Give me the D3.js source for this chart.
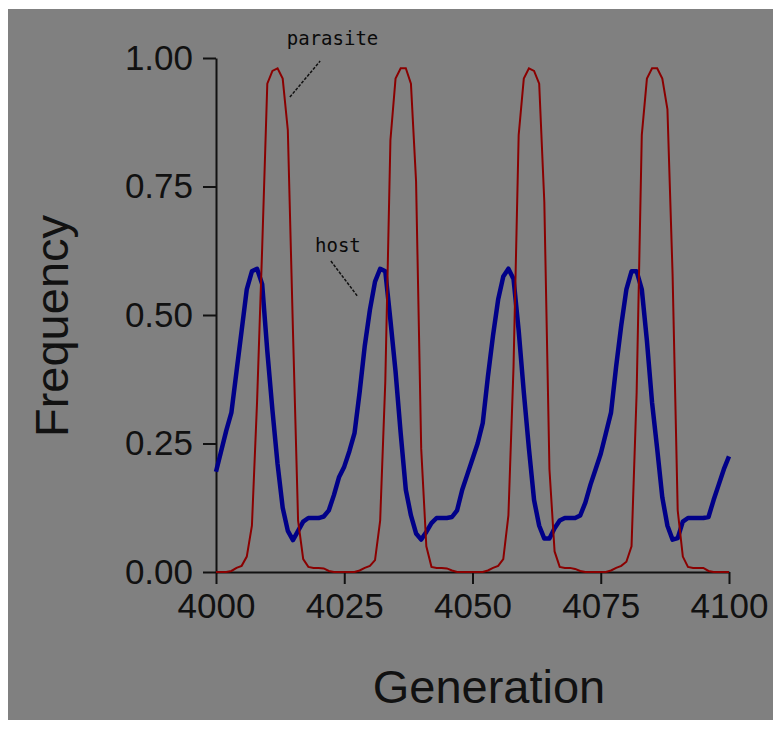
<!DOCTYPE html>
<html lang="en">
<head>
<meta charset="UTF-8">
<title>Host and parasite frequency</title>
<script src="https://d3js.org/d3.v7.min.js"></script>
<style>
    body { margin: 0; background: #fff; }
    .tick text { font-family: "Liberation Sans", Arial, sans-serif; font-size: 35px; fill: #111; }
    .axis-title { font-family: "Liberation Sans", Arial, sans-serif; font-size: 47px; fill: #111; }
    .note { font-family: "DejaVu Sans Mono", monospace; font-size: 19px; fill: #0a0a0a; }
</style>
</head>
<body>
<svg id="chart" width="773" height="729"></svg>
<script>
    // generations 4000..4100, one value per generation
    const generationStart = 4000;
    const generationEnd = 4100;
    const xTicks = [4000, 4025, 4050, 4075, 4100];
    const yTicks = [0, 0.25, 0.5, 0.75, 1];

    const parasite = [
        0, 0, 0, 0.002, 0.008, 0.012, 0.03, 0.09, 0.33, 0.63,
        0.95, 0.975, 0.98, 0.96, 0.86, 0.47, 0.10, 0.025, 0.01, 0.008,
        0.008, 0.007, 0.002, 0, 0, 0, 0, 0, 0.003, 0.008,
        0.012, 0.023, 0.10, 0.37, 0.84, 0.96, 0.98, 0.98, 0.95, 0.76,
        0.24, 0.05, 0.01, 0.008, 0.008, 0.007, 0.003, 0, 0, 0,
        0, 0, 0, 0.003, 0.008, 0.012, 0.025, 0.11, 0.40, 0.85,
        0.96, 0.98, 0.975, 0.95, 0.72, 0.20, 0.04, 0.01, 0.008, 0.008,
        0.006, 0.002, 0, 0, 0, 0, 0, 0.003, 0.008, 0.012,
        0.02, 0.05, 0.35, 0.85, 0.96, 0.98, 0.98, 0.96, 0.90, 0.58,
        0.12, 0.03, 0.01, 0.008, 0.008, 0.008, 0.002, 0, 0, 0,
        0
    ];

    const host = [
        0.195, 0.235, 0.275, 0.31, 0.39, 0.47, 0.55, 0.585, 0.59, 0.56,
        0.43, 0.315, 0.21, 0.125, 0.08, 0.062, 0.08, 0.098, 0.105, 0.105,
        0.105, 0.108, 0.12, 0.15, 0.185, 0.205, 0.235, 0.27, 0.35, 0.44,
        0.51, 0.565, 0.59, 0.585, 0.49, 0.39, 0.27, 0.16, 0.11, 0.075,
        0.063, 0.078, 0.095, 0.105, 0.105, 0.105, 0.107, 0.12, 0.16, 0.19,
        0.22, 0.25, 0.29, 0.38, 0.46, 0.53, 0.575, 0.59, 0.57, 0.47,
        0.35, 0.24, 0.14, 0.09, 0.065, 0.065, 0.085, 0.10, 0.105, 0.105,
        0.105, 0.11, 0.135, 0.17, 0.20, 0.23, 0.27, 0.31, 0.40, 0.48,
        0.55, 0.585, 0.585, 0.55, 0.45, 0.33, 0.24, 0.145, 0.09, 0.063,
        0.066, 0.098, 0.105, 0.105, 0.105, 0.105, 0.107, 0.14, 0.17, 0.20,
        0.225
    ];

    const svg = d3.select("#chart");

    // grey panel
    svg.append("rect")
        .attr("x", 8).attr("y", 9)
        .attr("width", 765).attr("height", 711)
        .attr("fill", "#808080");

    const x = d3.scaleLinear().domain([generationStart, generationEnd]).range([216, 729]);
    const y = d3.scaleLinear().domain([0, 1]).range([572, 58]);

    const yAxis = svg.append("g")
        .attr("transform", `translate(${x(generationStart)},0)`)
        .call(d3.axisLeft(y).tickValues(yTicks).tickFormat(d3.format(".2f"))
            .tickSize(13).tickSizeOuter(0).tickPadding(10));

    const xAxis = svg.append("g")
        .attr("transform", `translate(0,${y(0)})`)
        .call(d3.axisBottom(x).tickValues(xTicks).tickFormat(d3.format("d"))
            .tickSize(12).tickSizeOuter(0).tickPadding(9));

    [xAxis, yAxis].forEach(a => {
        a.select(".domain").attr("stroke", "#111").attr("stroke-width", 2);
        a.selectAll(".tick line").attr("stroke", "#111").attr("stroke-width", 2);
        a.attr("font-family", null).attr("font-size", null);
    });

    const line = d3.line()
        .x((d, i) => x(generationStart + i))
        .y(d => y(d));

    svg.append("path")
        .datum(host)
        .attr("fill", "none")
        .attr("stroke", "#000088")
        .attr("stroke-width", 4.5)
        .attr("stroke-linejoin", "round")
        .attr("d", line);

    svg.append("path")
        .datum(parasite)
        .attr("fill", "none")
        .attr("stroke", "#8a0000")
        .attr("stroke-width", 2)
        .attr("d", line);

    // labels with leader lines
    svg.append("text").attr("class", "note")
        .attr("x", x(4013.8)).attr("y", y(1.025)).text("parasite");
    svg.append("line")
        .attr("x1", x(4014.4)).attr("y1", y(0.924))
        .attr("x2", x(4020.3)).attr("y2", y(0.994))
        .attr("stroke", "#111").attr("stroke-width", 1.5).attr("stroke-dasharray", "3,1.5");

    svg.append("text").attr("class", "note")
        .attr("x", x(4019.3)).attr("y", y(0.623)).text("host");
    svg.append("line")
        .attr("x1", x(4022.4)).attr("y1", y(0.605))
        .attr("x2", x(4027.7)).attr("y2", y(0.535))
        .attr("stroke", "#111").attr("stroke-width", 1.5).attr("stroke-dasharray", "3,1.5");

    // axis titles
    svg.append("text").attr("class", "axis-title")
        .attr("text-anchor", "middle")
        .attr("x", 489).attr("y", 703)
        .text("Generation");

    svg.append("text").attr("class", "axis-title")
        .attr("text-anchor", "middle")
        .attr("transform", "translate(68,326) rotate(-90)")
        .text("Frequency");
</script>
</body>
</html>
